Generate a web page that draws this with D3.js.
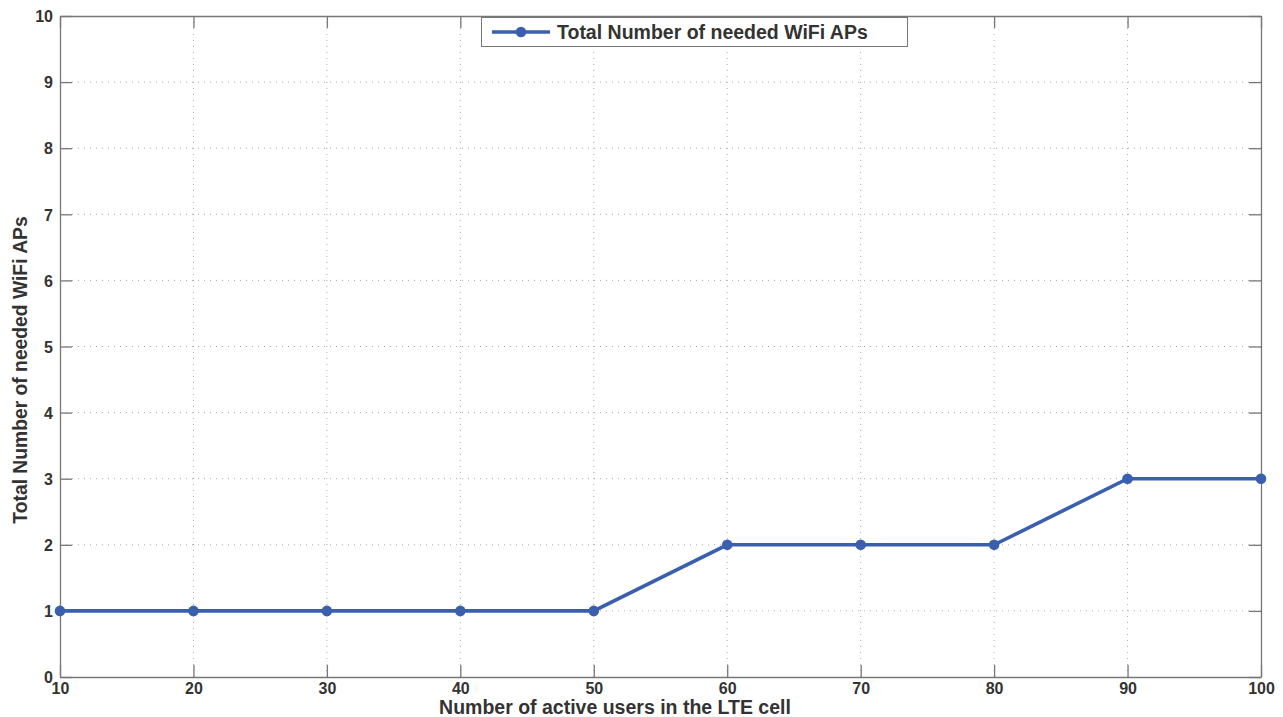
<!DOCTYPE html>
<html><head><meta charset="utf-8">
<script src="https://cdn.jsdelivr.net/npm/d3@7"></script>
<style>
body{margin:0;background:#fff;}
svg{display:block;font-family:"Liberation Sans",Arial,sans-serif;}
</style></head>
<body>
<script>
const users = [10,20,30,40,50,60,70,80,90,100];
const neededAPs = [1,1,1,1,1,2,2,2,3,3];
const xTicks = [10,20,30,40,50,60,70,80,90,100];
const yTicks = [0,1,2,3,4,5,6,7,8,9,10];
const seriesName = "Total Number of needed WiFi APs";
const xTitle = "Number of active users in the LTE cell";
const yTitle = "Total Number of needed WiFi APs";

const W=1283,H=717;
const L=60,R=1261,T=16,B=677;
const svg=d3.select("body").append("svg").attr("width",W).attr("height",H);
const x=d3.scaleLinear().domain([10,100]).range([L,R]);
const y=d3.scaleLinear().domain([0,10]).range([B,T]);
const axisColor="#777", textColor="#333", lineColor="#3a5fae";

// grid
const g=svg.append("g");
g.selectAll(".vg").data(xTicks.slice(1,-1)).enter().append("line")
 .attr("x1",d=>x(d)).attr("x2",d=>x(d)).attr("y1",T).attr("y2",B)
 .attr("stroke","#aaa").attr("stroke-width",1).attr("stroke-dasharray","1,5");
g.selectAll(".hg").data(yTicks.slice(1,-1)).enter().append("line")
 .attr("y1",d=>y(d)).attr("y2",d=>y(d)).attr("x1",L).attr("x2",R)
 .attr("stroke","#aaa").attr("stroke-width",1).attr("stroke-dasharray","1,5");

// axes (inward ticks, mirrored)
const tl=12;
const axB=svg.append("g").attr("transform",`translate(0,${B})`)
 .call(d3.axisBottom(x).tickValues(xTicks).tickSizeInner(-tl).tickSizeOuter(0).tickPadding(6));
const axT=svg.append("g").attr("transform",`translate(0,${T})`)
 .call(d3.axisTop(x).tickValues(xTicks).tickSizeInner(-tl).tickSizeOuter(0).tickFormat(""));
const axL=svg.append("g").attr("transform",`translate(${L},0)`)
 .call(d3.axisLeft(y).tickValues(yTicks).tickSizeInner(-tl).tickSizeOuter(0).tickPadding(7));
const axR=svg.append("g").attr("transform",`translate(${R},0)`)
 .call(d3.axisRight(y).tickValues(yTicks).tickSizeInner(-tl).tickSizeOuter(0).tickFormat(""));
[axB,axT,axL,axR].forEach(a=>{
  a.attr("font-size",null).attr("font-family",null);
  a.selectAll("path").attr("stroke",axisColor).attr("stroke-width",1.3);
  a.selectAll("line").attr("stroke",axisColor).attr("stroke-width",1.3);
  a.selectAll("text").attr("fill",textColor)
   .style("font-size","16px").style("font-weight","bold")
   .style("font-family","'Liberation Sans', Arial, sans-serif");
});
axB.selectAll("text").attr("dy","0.71em");
axL.selectAll("text").attr("dy","0.36em");

// line
const data=users.map((u,i)=>({x:u,y:neededAPs[i]}));
svg.append("path").datum(data)
 .attr("d",d3.line().x(d=>x(d.x)).y(d=>y(d.y)))
 .attr("fill","none").attr("stroke",lineColor).attr("stroke-width",3.6);
svg.selectAll(".pt").data(data).enter().append("circle")
 .attr("cx",d=>x(d.x)).attr("cy",d=>y(d.y)).attr("r",5.3).attr("fill",lineColor);

// titles
svg.append("text").attr("x",615).attr("y",714).attr("text-anchor","middle")
 .style("font-size","19.5px").style("font-weight","bold").attr("fill",textColor).text(xTitle);
svg.append("text").attr("transform",`translate(27,370) rotate(-90)`).attr("text-anchor","middle")
 .style("font-size","19.3px").style("font-weight","bold").attr("fill",textColor).text(yTitle);

// legend
const lg=svg.append("g");
lg.append("rect").attr("x",481.5).attr("y",17.5).attr("width",426).attr("height",29)
 .attr("fill","#fff").attr("stroke","#777").attr("stroke-width",1);
lg.append("line").attr("x1",492).attr("x2",550).attr("y1",32).attr("y2",32)
 .attr("stroke",lineColor).attr("stroke-width",3.6);
lg.append("circle").attr("cx",521).attr("cy",32).attr("r",5.3).attr("fill",lineColor);
lg.append("text").attr("x",557).attr("y",39).style("font-size","19.5px").style("font-weight","bold")
 .attr("fill",textColor).text(seriesName);
</script>
</body></html>
